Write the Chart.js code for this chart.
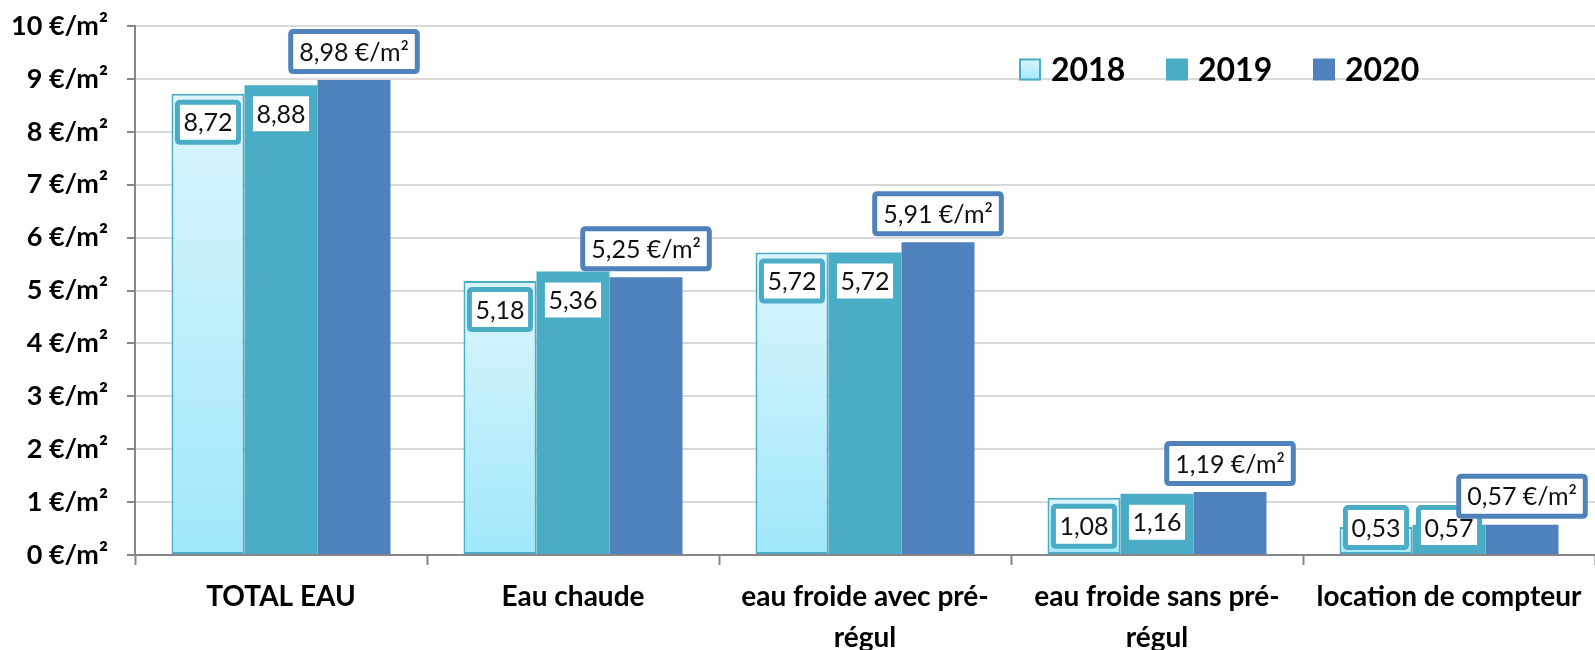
<!DOCTYPE html>
<html>
<head>
<meta charset="utf-8">
<script src="https://cdn.jsdelivr.net/npm/chart.js@4.4.1/dist/chart.umd.min.js"></script>
<style>
  html, body { margin: 0; padding: 0; background: #ffffff; }
  #wrap { width: 1595px; height: 650px; position: relative; }
</style>
</head>
<body>
<div id="wrap"><canvas id="c"></canvas></div>
<script>
const categories = [
  "TOTAL EAU",
  "Eau chaude",
  ["eau froide avec pré-", "régul"],
  ["eau froide sans pré-", "régul"],
  "location de compteur"
];
const seriesNames = ["2018", "2019", "2020"];
const values2018 = [8.72, 5.18, 5.72, 1.08, 0.53];
const values2019 = [8.88, 5.36, 5.72, 1.16, 0.57];
const values2020 = [8.98, 5.25, 5.91, 1.19, 0.57];
const yTickValues = [0, 1, 2, 3, 4, 5, 6, 7, 8, 9, 10];
const unit = " €/m²";

const C2018_TOP = "#dcf5fc", C2018_BOT = "#a0e8fb", C2018_LINE = "#4bacc6";
const C2019 = "#4bacc6";
const C2020 = "#4f81bd";
const FONT = "Lato, 'Open Sans', sans-serif";

function fmt(v) { return v.toFixed(2).replace(".", ","); }

function grad2018(ctx) {
  const chart = ctx.chart;
  if (!chart.chartArea || !chart.scales.y) return C2018_BOT;
  const y = chart.scales.y;
  const top = y.getPixelForValue(ctx.raw);
  const bot = y.getPixelForValue(0);
  const g = chart.ctx.createLinearGradient(0, top, 0, bot);
  g.addColorStop(0, C2018_TOP);
  g.addColorStop(1, C2018_BOT);
  return g;
}

function roundRectPath(c, x, y, w, h, r) {
  c.beginPath();
  c.moveTo(x + r, y);
  c.lineTo(x + w - r, y);
  c.quadraticCurveTo(x + w, y, x + w, y + r);
  c.lineTo(x + w, y + h - r);
  c.quadraticCurveTo(x + w, y + h, x + w - r, y + h);
  c.lineTo(x + r, y + h);
  c.quadraticCurveTo(x, y + h, x, y + h - r);
  c.lineTo(x, y + r);
  c.quadraticCurveTo(x, y, x + r, y);
  c.closePath();
}

function drawBox(c, text, cx, top, border, padX) {
  c.font = "25px " + FONT;
  const tw = c.measureText(text).width;
  const H = 45, W = tw + padX;
  const lw = 5;
  const x = cx - W / 2;
  roundRectPath(c, x + lw / 2, top + lw / 2, W - lw, H - lw, 3);
  c.fillStyle = "#ffffff";
  c.fill();
  c.lineWidth = lw;
  c.strokeStyle = border;
  c.stroke();
  c.fillStyle = "#111111";
  c.textAlign = "center";
  c.textBaseline = "middle";
  c.fillText(text, cx, top + H / 2 + 1);
}

const labelPlugin = {
  id: "boxLabels",
  afterDatasetsDraw(chart) {
    const c = chart.ctx;
    const area = chart.chartArea;
    c.save();
    chart.data.datasets.forEach((ds, di) => {
      const meta = chart.getDatasetMeta(di);
      meta.data.forEach((bar, i) => {
        const v = ds.data[i];
        const H = 45;
        if (di < 2) {
          const top = Math.min(bar.y + 6, area.bottom - 5 - H);
          drawBox(c, fmt(v), bar.x, top, C2019, 17);
        } else {
          const top = bar.y - 6 - H;
          drawBox(c, fmt(v) + unit, bar.x, top, C2020, 22);
        }
      });
    });
    c.restore();
  }
};

const legendPlugin = {
  id: "customLegend",
  afterDraw(chart) {
    const c = chart.ctx;
    c.save();
    const boxX = [1019, 1166, 1313];
    const yMid = 69.5;
    chart.data.datasets.forEach((ds, i) => {
      const bx = boxX[i], by = yMid - 11, s = 22;
      if (i === 0) {
        const g = c.createLinearGradient(0, by, 0, by + s);
        g.addColorStop(0, C2018_TOP);
        g.addColorStop(1, C2018_BOT);
        c.fillStyle = g;
        c.fillRect(bx, by, s, s);
        c.lineWidth = 2;
        c.strokeStyle = C2018_LINE;
        c.strokeRect(bx + 1, by + 1, s - 2, s - 2);
      } else {
        c.fillStyle = ds.backgroundColor;
        c.fillRect(bx, by, s, s);
      }
      c.font = "bold 32px " + FONT;
      c.fillStyle = "#000000";
      c.textAlign = "left";
      c.textBaseline = "middle";
      c.fillText(ds.label, bx + 32, yMid + 1);
    });
    c.restore();
  }
};

new Chart(document.getElementById("c"), {
  type: "bar",
  data: {
    labels: categories,
    datasets: [
      { label: seriesNames[0], data: values2018, backgroundColor: grad2018,
        borderColor: C2018_LINE, borderWidth: 2, borderSkipped: false },
      { label: seriesNames[1], data: values2019, backgroundColor: C2019, borderWidth: 0 },
      { label: seriesNames[2], data: values2020, backgroundColor: C2020, borderWidth: 0 }
    ]
  },
  options: {
    responsive: true,
    maintainAspectRatio: false,
    animation: false,
    layout: { padding: { top: 26, right: 0, bottom: 0, left: 0 } },
    datasets: { bar: { categoryPercentage: 0.75, barPercentage: 1.0 } },
    plugins: { legend: { display: false }, tooltip: { enabled: false } },
    scales: {
      x: {
        offset: true,
        grid: { display: true, drawOnChartArea: false, drawTicks: true, tickLength: 10,
                tickColor: "#868686", tickWidth: 2, offset: true, color: "#868686" },
        border: { display: true, color: "#868686", width: 2 },
        ticks: { color: "#000000", padding: 12, maxRotation: 0, autoSkip: false,
                 font: { family: FONT, size: 28, weight: "bold", lineHeight: 1.46 } },
        afterFit(scale) { scale.height = 95; }
      },
      y: {
        min: yTickValues[0],
        max: yTickValues[yTickValues.length - 1],
        afterBuildTicks(scale) { scale.ticks = yTickValues.map(v => ({ value: v })); },
        grid: { color: "#d9d9d9", lineWidth: 2, tickLength: 8, tickColor: "#868686", tickWidth: 2 },
        border: { display: true, color: "#868686", width: 2 },
        ticks: { color: "#000000", padding: 19,
                 font: { family: FONT, size: 27, weight: "bold" },
                 callback: (v) => v + unit },
        afterFit(scale) { scale.width = 135; scale.paddingTop = 0; scale.paddingBottom = 0; }
      }
    }
  },
  plugins: [labelPlugin, legendPlugin]
});
</script>
</body>
</html>
